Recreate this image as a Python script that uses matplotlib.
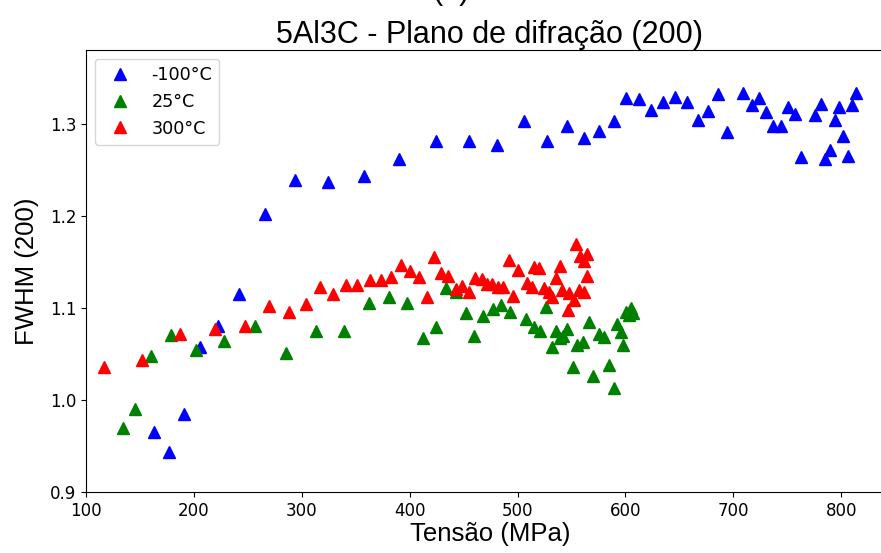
import matplotlib
matplotlib.use("Agg")
import matplotlib.pyplot as plt

# FWHM of the (200) diffraction peak versus applied stress, 5Al3C alloy
stress_m100 = [163, 177, 191, 206, 222, 242, 266, 294, 324, 358, 390, 424, 455,
               481, 506, 527, 546, 562, 576, 589, 601, 613, 624, 635, 646, 657,
               667, 677, 686, 694, 709, 717, 724, 730, 737, 744, 751, 757, 763,
               776, 781, 785, 790, 794, 798, 802, 806, 810, 814]
fwhm_m100 = [0.965, 0.943, 0.985, 1.057, 1.080, 1.115, 1.202, 1.239, 1.237,
             1.243, 1.262, 1.281, 1.281, 1.277, 1.303, 1.281, 1.297, 1.284,
             1.292, 1.303, 1.328, 1.327, 1.315, 1.324, 1.329, 1.323, 1.304,
             1.314, 1.332, 1.291, 1.333, 1.320, 1.328, 1.313, 1.297, 1.297,
             1.318, 1.310, 1.264, 1.309, 1.321, 1.262, 1.271, 1.304, 1.318,
             1.287, 1.265, 1.320, 1.333]

stress_25 = [134, 145, 160, 179, 202, 228, 257, 285, 313, 339, 362, 381, 398,
             412, 424, 434, 443, 452, 460, 468, 477, 485, 493, 508, 515, 521,
             526, 532, 536, 539, 542, 546, 551, 555, 561, 566, 570, 576, 580,
             585, 589, 592, 596, 598, 601, 603, 605, 607]
fwhm_25 = [0.970, 0.990, 1.048, 1.071, 1.054, 1.064, 1.080, 1.051, 1.075,
           1.075, 1.105, 1.112, 1.105, 1.067, 1.079, 1.121, 1.117, 1.094,
           1.069, 1.091, 1.099, 1.103, 1.095, 1.088, 1.079, 1.075, 1.101,
           1.058, 1.075, 1.067, 1.069, 1.077, 1.036, 1.060, 1.063, 1.085,
           1.026, 1.072, 1.068, 1.038, 1.013, 1.082, 1.074, 1.060, 1.096,
           1.092, 1.100, 1.094]

stress_300 = [117, 152, 187, 220, 247, 270, 288, 304, 317, 329, 341, 351, 363,
              373, 383, 392, 400, 409, 416, 423, 429, 436, 443, 449, 455, 461,
              467, 472, 476, 482, 487, 492, 496, 500, 509, 513, 515, 520, 525,
              529, 532, 536, 539, 541, 547, 548, 552, 554, 557, 558, 562, 564,
              564, 562]
fwhm_300 = [1.036, 1.043, 1.072, 1.077, 1.080, 1.102, 1.096, 1.104, 1.123,
            1.115, 1.125, 1.125, 1.130, 1.130, 1.133, 1.146, 1.140, 1.133,
            1.112, 1.155, 1.138, 1.135, 1.120, 1.124, 1.117, 1.132, 1.131,
            1.126, 1.126, 1.123, 1.123, 1.152, 1.113, 1.141, 1.127, 1.123,
            1.144, 1.143, 1.121, 1.117, 1.112, 1.132, 1.145, 1.119, 1.098,
            1.116, 1.109, 1.169, 1.119, 1.156, 1.151, 1.159, 1.135, 1.117]

series = [
    ("-100°C", stress_m100, fwhm_m100, "blue"),
    ("25°C", stress_25, fwhm_25, "green"),
    ("300°C", stress_300, fwhm_300, "red"),
]

title_font = "Liberation Sans"

fig = plt.figure(figsize=(8.81, 5.53), dpi=100)
ax = fig.add_axes([86 / 881, 1 - 492 / 553, (894 - 86) / 881, (492 - 50) / 553])

for label, xs, ys, color in series:
    ax.plot(xs, ys, linestyle="none", marker="^", markersize=9,
            color=color, label=label)

ax.set_xlim(100, 849)
ax.set_ylim(0.9, 1.38)
ax.set_xticks([100, 200, 300, 400, 500, 600, 700, 800])
ax.set_yticks([0.9, 1.0, 1.1, 1.2, 1.3])
ax.tick_params(labelsize=12)

ax.set_xlabel("Tensão (MPa)", fontsize=18.5, family=title_font, labelpad=2)
ax.set_ylabel("FWHM (200)", fontsize=18.5, family=title_font, labelpad=8)
ax.set_title("5Al3C - Plano de difração (200)", fontsize=22,
             family=title_font, pad=5)

# panel tag above the title, running off the top edge of the figure
fig.text(451 / 881, 1 + 1 / 553, "(b)", fontsize=22, family=title_font,
         ha="center", va="baseline")

ax.legend(loc="upper left", numpoints=1, fontsize=12.7)

fig.savefig("out.png", dpi=100)
